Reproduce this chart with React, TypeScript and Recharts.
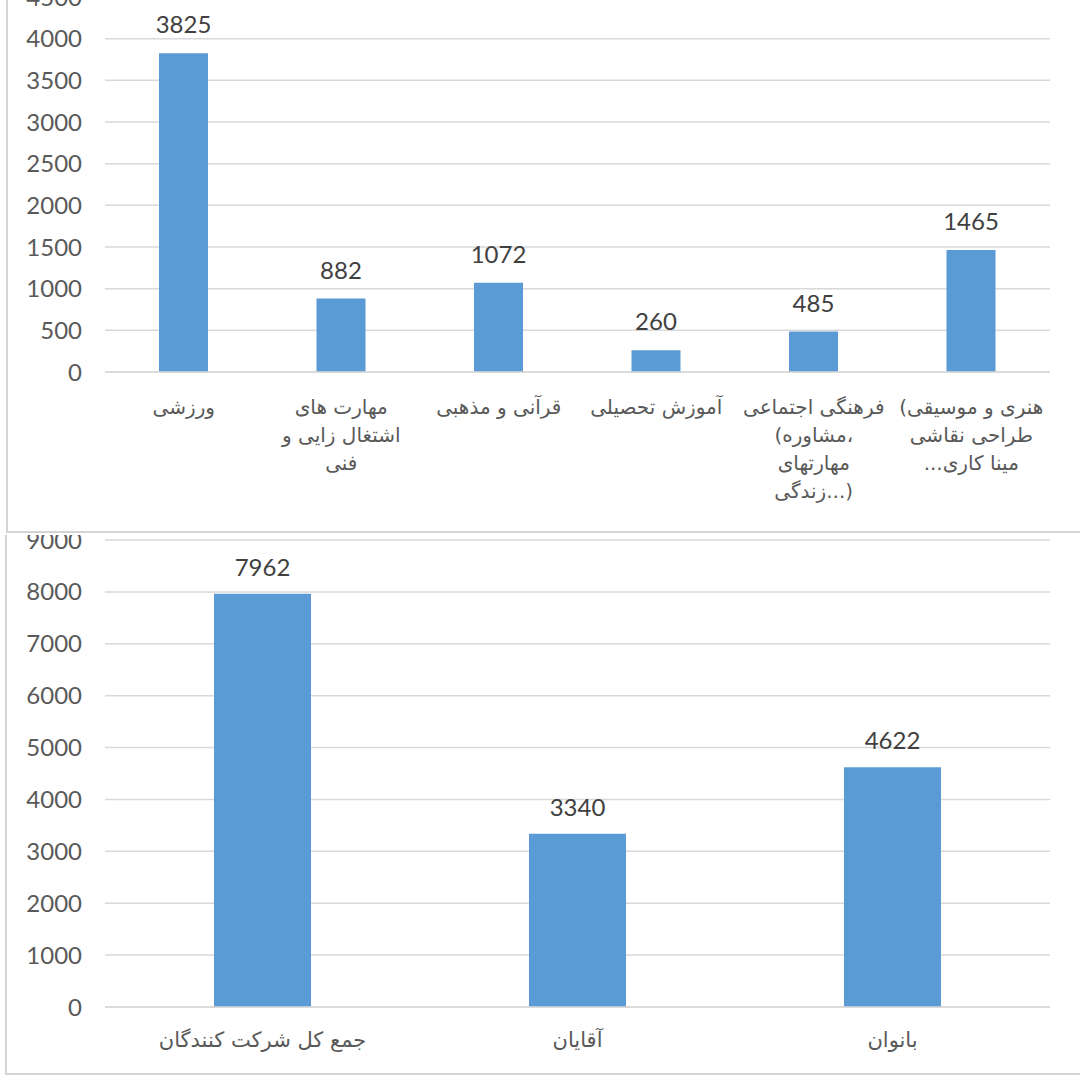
import React from 'react';
import { BarChart, Bar, XAxis, YAxis, CartesianGrid, LabelList } from 'recharts';

// ---- Top chart data ----
const topCategories = [
  'ورزشی',
  'مهارت های اشتغال زایی و فنی',
  'قرآنی و مذهبی',
  'آموزش تحصیلی',
  'فرهنگی اجتماعی (مشاوره، مهارتهای زندگی...)',
  'هنری و موسیقی( طراحی نقاشی مینا کاری...',
];
const topValues = [3825, 882, 1072, 260, 485, 1465];
const LRM = '\u200E';
const topTickLines = [
  ['ورزشی'],
  ['مهارت  های', 'اشتغال زایی و', 'فنی'],
  ['قرآنی و مذهبی'],
  ['آموزش تحصیلی'],
  ['فرهنگی اجتماعی', LRM + '(مشاوره،' + LRM, 'مهارتهای', LRM + 'زندگی...)' + LRM],
  [LRM + '(هنری و موسیقی', 'طراحی نقاشی', LRM + '...مینا کاری'],
];
const topYTicks = [0, 500, 1000, 1500, 2000, 2500, 3000, 3500, 4000, 4500];

// ---- Bottom chart data ----
const bottomCategories = ['جمع کل شرکت کنندگان', 'آقایان', 'بانوان'];
const bottomValues = [7962, 3340, 4622];
const bottomTickLines = [['جمع کل شرکت کنندگان'], ['آقایان'], ['بانوان']];
const bottomYTicks = [0, 1000, 2000, 3000, 4000, 5000, 6000, 7000, 8000, 9000];

const topData = topCategories.map((name, i) => ({ name, value: topValues[i] }));
const bottomData = bottomCategories.map((name, i) => ({ name, value: bottomValues[i] }));

const BAR = '#5b9bd5';
const GRID = '#d9d9d9';
const BORDER = '#d4d4d4';
const NUM_FONT = "Lato, 'Open Sans', sans-serif";
const AR_FONT = "'DejaVu Sans', sans-serif";

const makeTick = (lines: string[][], dy0: number, lh: number, fs: number) => (props: any) => {
  const { x, y, payload } = props;
  const ls = lines[payload.index] || [String(payload.value)];
  return (
    <g transform={`translate(${x},${y})`}>
      {ls.map((l, i) => (
        <text
          key={i}
          x={0}
          y={dy0 + i * lh}
          textAnchor="middle"
          fill="#595959"
          fontSize={fs}
          fontFamily={AR_FONT}
        >
          {l}
        </text>
      ))}
    </g>
  );
};

const yTickStyle = { fill: '#595959', fontSize: 24, fontFamily: NUM_FONT };

export default function App() {
  return (
    <div style={{ position: 'absolute', left: 0, top: 0, width: 1080, height: 1080, background: '#fff', overflow: 'hidden' }}>
      {/* Top chart */}
      <div style={{ position: 'absolute', left: 0, top: 0, width: 1080, height: 531, overflow: 'hidden' }}>
        <div style={{ position: 'absolute', left: 0, top: -13 }}>
          <BarChart width={1080} height={545} data={topData} margin={{ top: 10, right: 30, left: 0, bottom: 0 }}>
            <CartesianGrid vertical={false} stroke={GRID} strokeWidth={1.5} />
            <XAxis
              dataKey="name"
              height={160}
              interval={0}
              tickLine={false}
              tickSize={0}
              tickMargin={0}
              axisLine={{ stroke: GRID, strokeWidth: 1.5 }}
              tick={makeTick(topTickLines, 42, 28, 20)}
            />
            <YAxis
              width={105}
              domain={[0, 4500]}
              ticks={topYTicks}
              interval={0}
              axisLine={false}
              tickLine={false}
              tickSize={0}
              tickMargin={23}
              tick={yTickStyle}
            />
            <Bar dataKey="value" fill={BAR} barSize={49} isAnimationActive={false}>
              <LabelList dataKey="value" position="top" offset={20} fill="#404040" fontSize={24} fontFamily={NUM_FONT} />
            </Bar>
          </BarChart>
        </div>
      </div>

      {/* Bottom chart */}
      <div style={{ position: 'absolute', left: 0, top: 535, width: 1080, height: 538, overflow: 'hidden' }}>
        <BarChart width={1080} height={538} data={bottomData} margin={{ top: 5, right: 30, left: 0, bottom: 0 }}>
          <CartesianGrid vertical={false} stroke={GRID} strokeWidth={1.5} />
          <XAxis
            dataKey="name"
            height={66}
            interval={0}
            tickLine={false}
            tickSize={0}
            tickMargin={0}
            axisLine={{ stroke: GRID, strokeWidth: 1.5 }}
            tick={makeTick(bottomTickLines, 40, 28, 21)}
          />
          <YAxis
            width={105}
            domain={[0, 9000]}
            ticks={bottomYTicks}
            interval={0}
            axisLine={false}
            tickLine={false}
            tickSize={0}
            tickMargin={23}
            tick={yTickStyle}
          />
          <Bar dataKey="value" fill={BAR} barSize={97} isAnimationActive={false}>
            <LabelList dataKey="value" position="top" offset={18} fill="#404040" fontSize={24} fontFamily={NUM_FONT} />
          </Bar>
        </BarChart>
      </div>

      {/* Panel borders */}
      <div style={{ position: 'absolute', left: 6, top: 0, width: 2, height: 533, background: BORDER }} />
      <div style={{ position: 'absolute', left: 6, top: 531, width: 1074, height: 2, background: BORDER }} />
      <div style={{ position: 'absolute', left: 5, top: 535, width: 2, height: 540, background: BORDER }} />
      <div style={{ position: 'absolute', left: 5, top: 1073, width: 1075, height: 2, background: BORDER }} />
    </div>
  );
}
